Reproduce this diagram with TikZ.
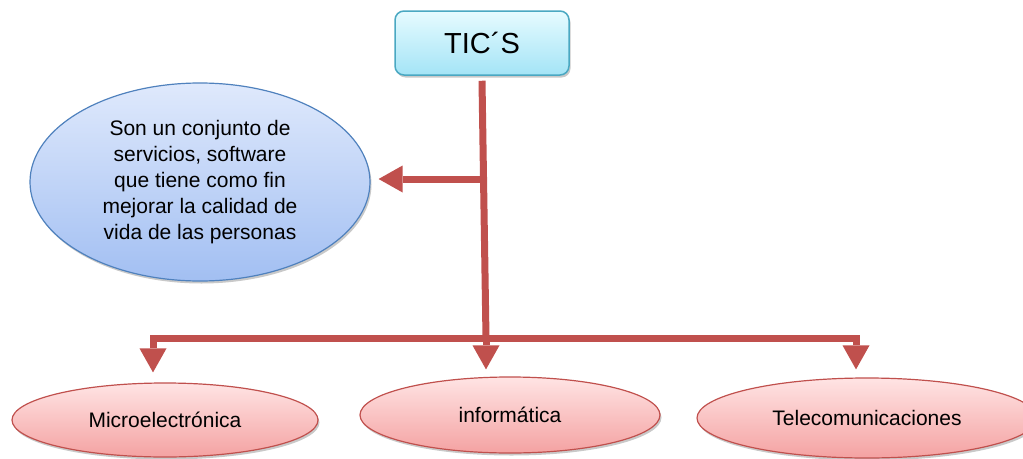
\documentclass[tikz,border=0pt]{standalone}
\usepackage{fontspec}
\setmainfont{Liberation Sans}
\usetikzlibrary{arrows.meta,shapes.geometric,shadows}
\definecolor{tealb}{HTML}{4AA8C2}
\definecolor{cyantop}{HTML}{E6FBFF}
\definecolor{cyanbot}{HTML}{A4E4F6}
\definecolor{blueb}{HTML}{4F81BD}
\definecolor{bluetop}{HTML}{DFE9FC}
\definecolor{bluebot}{HTML}{A2BFF2}
\definecolor{redb}{HTML}{C0504D}
\definecolor{pinktop}{HTML}{FFE4E4}
\definecolor{pinkbot}{HTML}{F4A2A2}
\begin{document}
\begin{tikzpicture}[x=1pt,y=-1pt,
  shd/.style={drop shadow={shadow xshift=1.5pt,shadow yshift=-2.5pt,opacity=0.3,fill=black!70}},
  topbox/.style={rectangle, draw=tealb, line width=1.5pt, rounded corners=9pt, top color=cyantop, bottom color=cyanbot, minimum width=174pt, minimum height=64pt, inner sep=0pt, font=\fontsize{29}{34}\selectfont, shd},
  bluell/.style={ellipse, draw=blueb, line width=1.2pt, top color=bluetop, bottom color=bluebot, minimum width=340pt, minimum height=198pt, inner sep=0pt, align=center, font=\fontsize{21}{26}\selectfont, shd},
  pinkell/.style={ellipse, draw=redb, line width=1.2pt, top color=pinktop, bottom color=pinkbot, inner sep=0pt, font=\fontsize{21}{25}\selectfont, shd},
  arr/.style={draw=redb, line width=7pt, -{Triangle[length=24pt,width=27pt,line width=0pt]}}
]
\useasboundingbox (0,0) rectangle (1023,458);
\clip (0,0) rectangle (1023,458);

\node[topbox] (tic) at (482,43) {TIC´S};
\node[bluell] (desc) at (200,182) {Son un conjunto de\\servicios, software\\que tiene como fin\\mejorar la calidad de\\vida de las personas};
\node[pinkell, minimum width=306pt, minimum height=74pt] (micro) at (165,420) {Microelectrónica};
\node[pinkell, minimum width=300pt, minimum height=76pt] (info) at (510,415) {informática};
\node[pinkell, minimum width=340pt, minimum height=80pt] (tele) at (867,418) {Telecomunicaciones};

\coordinate (j1) at (484,179);
\coordinate (j2) at (486,338);

\draw[draw=redb, line width=7pt] ([yshift=-5pt]tic.south) -- (j2);
\draw[arr, shorten >=8pt] (j1) -- (j1 -| desc.east);
\draw[arr, shorten >=10pt] (j2) -| ([xshift=-12pt]micro.north);
\draw[arr, shorten >=7pt] (j2) -- (j2 |- info.north);
\draw[arr, shorten >=8pt] (j2) -| ([xshift=-11pt]tele.north);
\end{tikzpicture}
\end{document}
